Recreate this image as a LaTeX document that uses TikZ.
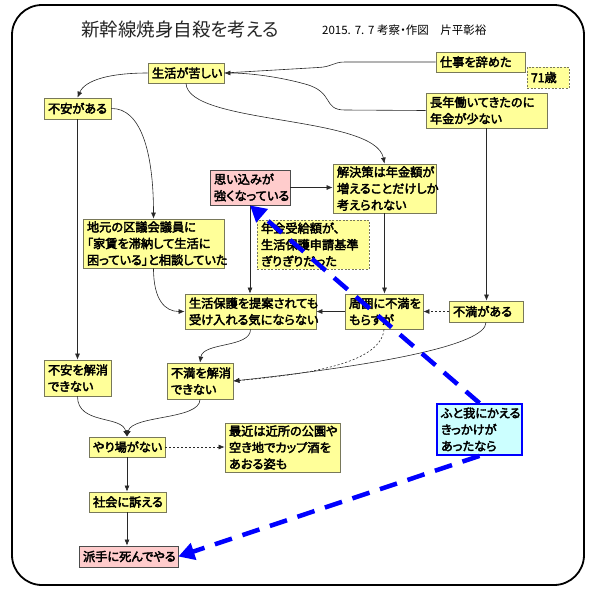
\documentclass[tikz,border=0pt]{standalone}
\usepackage{fontspec}
\newfontfamily\jp[RawFeature={+palt}]{Noto Sans CJK JP}
\newfontfamily\jpb[RawFeature={+palt},FakeBold=3]{Noto Sans CJK JP}
\usetikzlibrary{arrows.meta}
\definecolor{yel}{RGB}{255,255,153}
\definecolor{boxline}{RGB}{120,120,90}
\definecolor{pinkf}{RGB}{255,204,204}
\definecolor{cyanf}{RGB}{204,255,255}
\definecolor{edgec}{RGB}{40,40,40}
\tikzset{
  box/.style={draw=boxline, line width=0.8pt, fill=yel, inner xsep=4pt, inner ysep=0pt,
    align=left, font=\jpb\fontsize{12.2}{16.5}\selectfont, anchor=center},
  dbox/.style={box, dash pattern=on 2pt off 1.5pt},
  pbox/.style={box, fill=pinkf, draw=black!70},
  cbox/.style={box, fill=cyanf, draw=blue, line width=1.8pt},
  conn/.style={draw=edgec, line width=0.6pt, -{Latex[length=6pt,width=5pt]}},
  dconn/.style={conn, dash pattern=on 2pt off 2pt},
  plain/.style={draw=edgec, line width=0.6pt},
  bigarrow/.style={draw=blue, line width=4.5pt, dash pattern=on 18pt off 11pt,
    -{Triangle[length=16pt,width=17pt]}},
}
\begin{document}
\begin{tikzpicture}[x=1pt,y=-1pt]
\useasboundingbox (0,0) rectangle (592,590);
\draw[line width=1.8pt, rounded corners=30pt] (12,5) rectangle (584,585);

\node[anchor=center, font=\jp\fontsize{18.5}{20}\selectfont, text=black!85] (title) at (180,29) {新幹線焼身自殺を考える};
\node[anchor=west, font=\jp\fontsize{11.5}{12}\selectfont, inner sep=0pt] (date) at (322,30) {2015.\,\,7.\,\,7 考察・作図\quad 片平彰裕};

\node[box, text width=68pt, minimum height=20pt] (seikatsu) at (186,73) {生活が苦しい};
\node[box, text width=81pt, minimum height=20pt] (shigoto) at (480.5,62) {仕事を辞めた};
\node[dbox, text width=34pt, minimum height=21pt] (age) at (548,77.5) {71歳};
\node[box, text width=113pt, minimum height=35pt] (nagane) at (486.5,110.5) {長年働いてきたのに\\年金が少ない};
\node[box, text width=59pt, minimum height=21pt] (fuan) at (77.5,108.5) {不安がある};
\node[pbox, text width=72pt, minimum height=35pt] (omoi) at (250,187.5) {思い込みが\\強くなっている};
\node[box, text width=95pt, minimum height=49pt] (kaiketsu) at (384.5,188.5) {解決策は年金額が\\増えることだけしか\\考えられない};
\node[dbox, text width=104pt, minimum height=49pt] (nenkin) at (313,244.5) {年金受給額が、\\生活保護申請基準\\ぎりぎりだった};
\node[box, text width=133pt, minimum height=49pt] (jimoto) at (153.5,243.5) {地元の区議会議員に\\「家賃を滞納して生活に\\困っている」と相談していた};
\node[box, text width=123pt, minimum height=35pt] (seiho) at (250.5,311.5) {生活保護を提案されても\\受け入れる気にならない};
\node[box, text width=70pt, minimum height=35pt] (shui) at (384,311.5) {周囲に不満を\\もらすが};
\node[box, text width=66pt, minimum height=21pt] (fuman) at (486,311.5) {不満がある};
\node[box, text width=59pt, minimum height=36pt] (fuankai) at (77.5,378) {不安を解消\\できない};
\node[box, text width=58pt, minimum height=36pt] (fumankai) at (200,381) {不満を解消\\できない};
\node[box, text width=68pt, minimum height=20pt] (yariba) at (127,447) {やり場がない};
\node[box, text width=107pt, minimum height=49pt] (saikin) at (282.5,447.5) {最近は近所の公園や\\空き地でカップ酒を\\あおる姿も};
\node[box, text width=69pt, minimum height=20pt] (shakai) at (127.5,502) {社会に訴える};
\node[pbox, text width=91pt, minimum height=21pt] (hade) at (128.5,556.5) {派手に死んでやる};
\node[cbox, text width=77pt, minimum height=51pt] (futo) at (479.5,429.5) {ふと我にかえる\\きっかけが\\あったなら};

% connectors
\draw[plain] (shigoto.west) -- (345,62) .. controls (333,62) and (332,67) .. (318,67.5) -- (seikatsu.east);
\draw[conn] (nagane.west) -- (345,110) .. controls (322,110) and (335,92) .. (305,84) .. controls (280,77) and (250,73) .. (seikatsu.east);
\draw[conn] (seikatsu.west) .. controls (110,73) and (85,80) .. (fuan.north);
\draw[conn] (seikatsu.south) .. controls (188,125) and (375,115) .. (kaiketsu.north);
\draw[conn] (fuan.east) .. controls (140,108) and (153.5,150) .. (jimoto.north);
\draw[conn] (fuan.south) -- (fuankai.north);
\draw[conn] (jimoto.south) .. controls (153.5,300) and (165,311.5) .. (seiho.west);
\draw[conn] (omoi.east) -- (kaiketsu.west |- omoi.east);
\draw[conn] (omoi.south) -- (seiho.north -| omoi.south);
\draw[conn] (kaiketsu.south) -- (shui.north -| kaiketsu.south);
\draw[conn] (nagane.south) -- (fuman.north -| nagane.south);
\draw[dconn] (fuman.west) -- (shui.east);
\draw[conn] (shui.west) -- (seiho.east);
\draw[conn] (seiho.south) .. controls (250.5,348) and (203,342) .. (fumankai.north);
\draw[dconn] (shui.south) .. controls (381,365) and (300,375) .. (fumankai.east);
\draw[conn] (fuman.south) .. controls (486,345) and (380,365) .. (fumankai.east);
\draw[conn] (fuankai.south) .. controls (77.5,425) and (122,415) .. (yariba.north);
\draw[conn] (fumankai.south) .. controls (200,420) and (132,415) .. (yariba.north);
\draw[dconn] (yariba.east) -- (saikin.west |- yariba.east);
\draw[conn] (yariba.south) -- (shakai.north -| yariba.south);
\draw[conn] (shakai.south -| yariba.south) -- (hade.north -| yariba.south);

\coordinate (ftop) at (futo.north);
\coordinate (fbot) at (futo.south);
\draw[bigarrow] (ftop) -- (omoi.south);
\draw[bigarrow] (fbot) -- (hade.east);
\end{tikzpicture}
\end{document}
